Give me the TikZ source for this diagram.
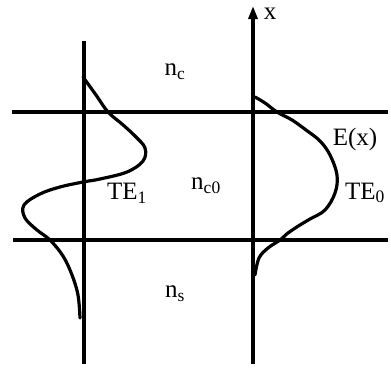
\documentclass[tikz,border=0pt]{standalone}
\usepackage{fontspec}
\setmainfont{Liberation Serif}
\usetikzlibrary{arrows.meta}
\begin{document}
\begin{tikzpicture}[x=1pt,y=-1pt,
  line/.style={line width=3.2pt},
  curve/.style={line width=3.2pt, smooth, tension=0.6, line join=round, line cap=round},
  lbl/.style={font=\fontsize{25}{27}\selectfont, inner sep=0pt}]
\useasboundingbox (0,0) rectangle (391,370);
% axes and interfaces
\coordinate (l1) at (12,112); \coordinate (r1) at (388,112);
\coordinate (l2) at (13,240); \coordinate (r2) at (388,240);
\coordinate (a1t) at (84,41); \coordinate (a1b) at (84,364);
\coordinate (a2t) at (253,6); \coordinate (a2b) at (253,364);
\draw[line] (l1) -- (r1);
\draw[line] (l2) -- (r2);
\draw[line] (a1t) -- (a1b);
\draw[line, -{Triangle[length=13pt,width=9pt]}] (a2b) -- (a2t);
% TE1 mode
\draw[curve] plot coordinates {(83,77) (96,95) (108,112) (122,124) (135,136) (145,148) (143,161) (127,172) (100,179) (83,182) (60,187) (40,194) (24,205) (25,218) (37,230) (50,240) (63,256) (72,275) (78,295) (80,318)};
% TE0 mode
\draw[curve] plot coordinates {(255,97) (265,103) (277,112) (292,120) (306,130) (320,141) (330,155) (337,175) (335,193) (325,210) (310,219) (300,225) (288,233) (280,240) (268,248) (259,258) (255,275)};
% labels
\node[lbl] (x) at (270,14) {x};
\node[lbl] (nc) at (175,72) {n\textsubscript{c}};
\node[lbl] (nc0) at (206,186) {n\textsubscript{c0}};
\node[lbl] (te1) at (127,193) {TE\textsubscript{1}};
\node[lbl] (ns) at (175,294) {n\textsubscript{s}};
\node[lbl] (ex) at (355,139) {E(x)};
\node[lbl] (te0) at (365,193) {TE\textsubscript{0}};
\end{tikzpicture}
\end{document}
